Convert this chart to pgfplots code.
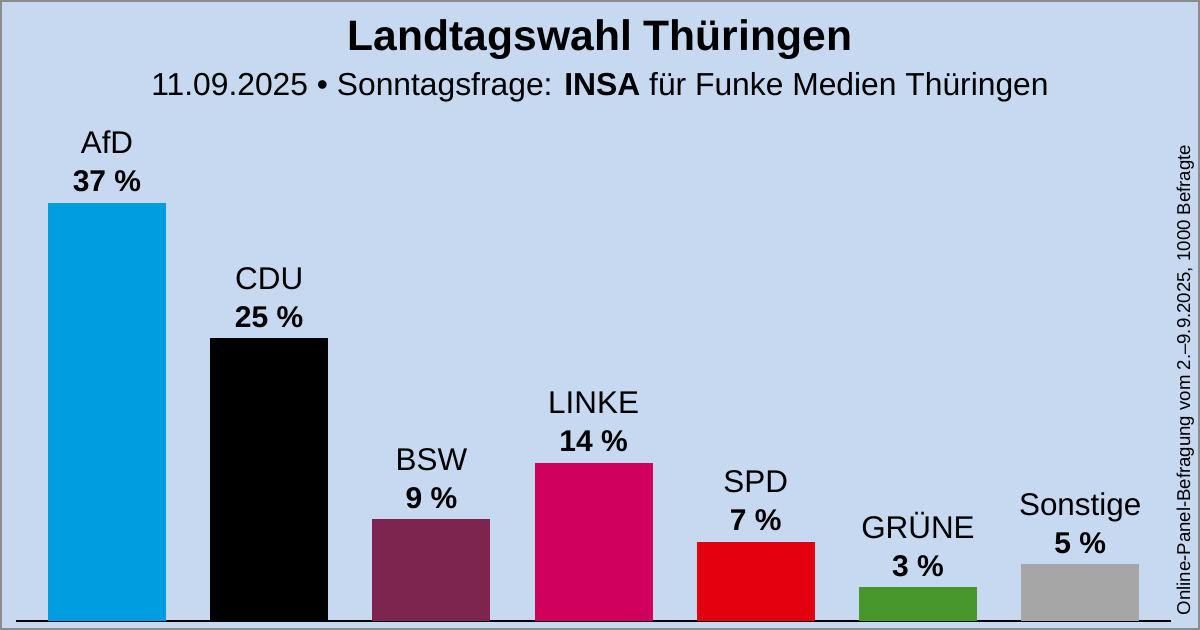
\documentclass[border=0pt]{standalone}
\usepackage{fontspec}
\setmainfont{Liberation Sans}
\usepackage{pgfplots}
\pgfplotsset{compat=1.18}
\definecolor{bg}{HTML}{C6D9F0}
\definecolor{bordergray}{HTML}{8C8C8C}
\definecolor{afd}{HTML}{009EE0}
\definecolor{cdu}{HTML}{000000}
\definecolor{bsw}{HTML}{7D254F}
\definecolor{linke}{HTML}{D0005F}
\definecolor{spd}{HTML}{E3000F}
\definecolor{gruene}{HTML}{46962B}
\definecolor{sonst}{HTML}{A6A6A6}
\newcommand\lab[2]{\begin{tabular}[b]{@{}c@{}}{\fontsize{15.7}{19}\selectfont #1}\\\textbf{#2 \%}\end{tabular}}
\begin{document}
\begin{tikzpicture}
\fill[bg] (0,0) rectangle (600pt,315pt);
\node[anchor=base, font=\fontsize{21.3}{25}\selectfont\bfseries] at (300pt,289.5pt) {Landtagswahl Thüringen};
\node[anchor=base, font=\fontsize{15.9}{18}\selectfont] at (300pt,267pt) {11.09.2025 • Sonntagsfrage: \textbf{INSA} für Funke Medien Thüringen};
\node[rotate=90, anchor=base, font=\fontsize{9.3}{11}\selectfont, inner sep=0pt] at (595pt,125pt) {Online-Panel-Befragung vom 2.–9.9.2025, 1000 Befragte};
\begin{axis}[
  at={(8pt,4.5pt)}, anchor=south west,
  scale only axis, width=577.5pt, height=226pt,
  xmin=-0.561, xmax=6.56, ymin=0, ymax=40,
  axis x line*=bottom, hide y axis,
  x axis line style={-, black, line width=1pt},
  xtick=\empty, ytick=\empty,
  clip=false,
  ybar, bar width=59pt, bar shift=0pt,
  every axis plot/.append style={draw=none},
  nodes near coords style={anchor=base, yshift=5.5pt, inner sep=0pt, font=\fontsize{15}{19}\selectfont, text=black},
]
\addplot[fill=afd, nodes near coords={\lab{AfD}{37}}] coordinates {(0,37)};
\addplot[fill=cdu, nodes near coords={\lab{CDU}{25}}] coordinates {(1,25)};
\addplot[fill=bsw, nodes near coords={\lab{BSW}{9}}] coordinates {(2,9)};
\addplot[fill=linke, nodes near coords={\lab{LINKE}{14}}] coordinates {(3,14)};
\addplot[fill=spd, nodes near coords={\lab{SPD}{7}}] coordinates {(4,7)};
\addplot[fill=gruene, nodes near coords={\lab{GRÜNE}{3}}] coordinates {(5,3)};
\addplot[fill=sonst, nodes near coords={\lab{Sonstige}{5}}] coordinates {(6,5)};
\end{axis}
\draw[bordergray, line width=1pt] (0.5pt,0.5pt) rectangle (599.5pt,314.5pt);
\pgfresetboundingbox
\path[use as bounding box] (0,0) rectangle (600pt,315pt);
\end{tikzpicture}
\end{document}
